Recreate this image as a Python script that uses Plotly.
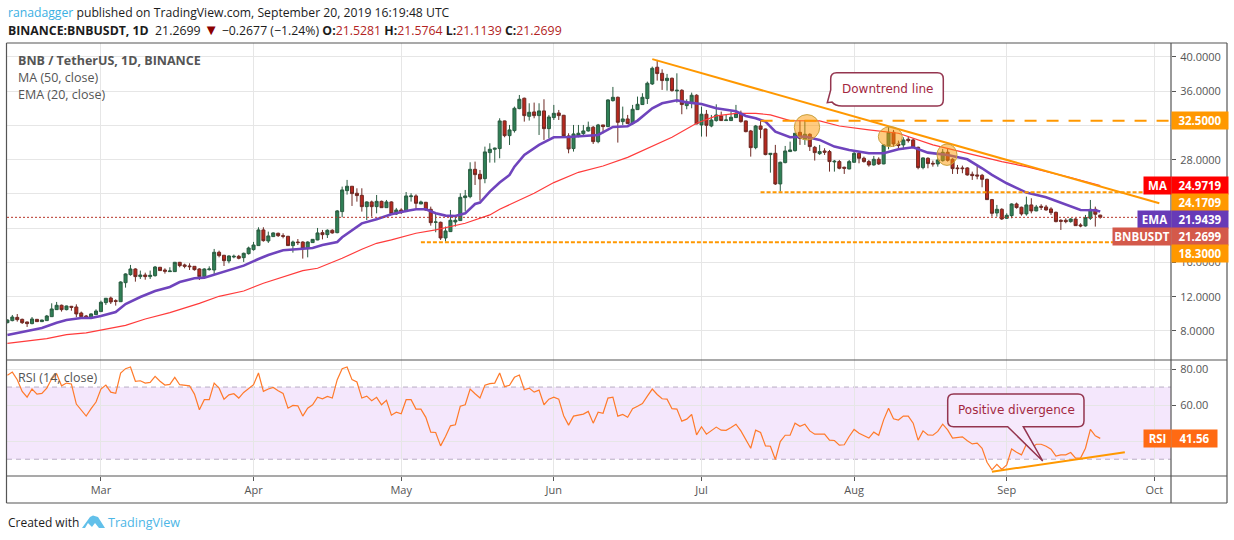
import pandas as pd
import plotly.graph_objects as go

# daily candles, BNB / USDT
opens = [8.97,9.21,9.59,9.36,9.05,8.86,9.36,9.09,9.21,9.67,10.49,11.00,10.49,10.88,10.80,10.10,9.75,9.48,9.91,10.26,
         11.31,11.85,11.54,11.42,13.64,14.58,15.24,14.35,14.54,14.35,14.46,15.44,15.12,14.93,14.93,16.02,15.71,15.59,15.55,15.24,
         14.35,15.16,15.12,17.19,16.84,16.18,16.64,16.72,16.56,17.03,17.50,17.97,19.80,18.51,19.02,19.41,19.13,19.06,17.97,18.39,
         18.39,17.62,18.32,18.63,19.48,19.25,19.76,19.48,21.94,24.39,24.90,24.08,23.84,22.52,23.07,22.52,23.14,22.40,23.07,21.66,
         22.13,21.94,23.69,23.77,22.83,23.03,22.21,20.69,20.69,18.86,19.60,20.73,20.89,23.57,23.69,26.88,26.30,25.79,28.83,29.22,
         29.30,32.53,30.81,31.40,33.97,35.18,33.07,33.58,33.15,33.70,31.63,32.92,33.46,33.19,30.78,29.30,30.78,31.05,31.36,31.79,
         30.11,32.06,31.87,34.90,35.29,32.45,32.76,32.22,33.85,34.44,35.14,36.85,38.80,38.09,37.24,37.51,36.03,36.11,34.32,34.59,
         35.53,32.06,33.31,31.94,32.57,33.11,32.57,32.57,32.92,33.42,32.53,31.36,29.41,31.94,31.59,28.60,28.75,25.17,27.66,28.95,
         29.06,31.20,30.39,30.97,29.45,28.71,29.02,28.95,27.74,27.78,27.12,26.92,27.70,28.75,28.17,27.78,27.39,28.05,27.51,29.61,
         31.20,29.84,29.73,30.39,30.31,29.45,27.08,28.17,27.58,27.51,27.89,28.87,28.05,27.04,27.04,27.04,26.30,26.22,26.18,25.71,
         23.34,21.78,22.21,21.16,21.47,22.83,22.45,21.67,22.72,22.02,22.56,22.48,22.25,21.86,20.93,20.93,20.77,21.08,20.38,20.27,
         21.16,22.21,21.5281]
highs = [9.35,9.87,9.98,9.44,9.09,9.63,9.40,9.30,9.87,11.23,11.39,11.08,10.96,10.92,11.11,10.26,9.87,10.06,10.53,11.54,
         11.85,12.01,11.70,13.80,14.73,15.71,15.32,15.05,14.81,15.05,15.59,15.47,15.32,15.44,16.06,16.06,15.86,15.90,15.55,15.32,
         15.32,15.55,17.58,17.38,16.88,16.84,16.92,16.88,17.15,17.85,18.40,20.11,20.11,19.60,19.52,19.48,19.41,19.10,18.55,18.74,
         18.47,18.47,18.74,20.03,19.80,19.87,19.87,22.13,24.86,25.64,24.93,24.66,24.66,23.14,23.22,23.88,23.22,23.30,23.14,22.37,
         22.33,24.23,24.08,23.96,23.22,23.07,22.52,21.74,20.77,20.19,22.13,21.55,24.08,24.47,27.70,27.78,26.80,29.53,29.92,29.41,
         32.84,32.57,32.06,34.20,35.56,35.25,34.59,34.67,34.59,35.06,33.23,34.40,33.81,33.23,31.09,32.06,32.06,32.06,32.45,31.94,
         32.18,32.06,35.06,36.50,35.37,34.20,33.23,34.40,35.37,35.76,37.12,38.87,39.65,38.56,38.02,37.59,38.09,36.23,35.06,35.84,
         35.64,34.20,33.81,33.23,34.47,33.62,33.23,33.62,34.40,33.73,32.57,31.48,32.06,32.64,31.63,28.75,29.73,27.78,29.61,30.11,
         31.09,32.57,32.64,31.09,29.61,29.73,29.34,29.14,27.97,27.97,27.19,27.97,28.95,28.95,28.36,27.97,28.44,28.28,29.80,31.94,
         31.48,30.23,30.62,30.70,30.50,29.53,28.28,28.28,27.89,28.17,29.26,29.34,28.17,27.39,27.31,27.12,26.61,27.27,26.34,25.79,
         23.42,22.72,22.33,21.74,22.91,22.99,22.52,23.69,23.50,22.72,22.80,22.72,22.45,21.94,21.04,21.16,21.16,21.16,20.58,21.55,
         23.30,22.52,21.5764]
lows = [8.90,9.13,9.09,8.82,8.47,8.78,9.05,9.07,9.17,9.67,10.45,10.26,10.41,10.37,9.60,9.56,9.44,9.40,9.87,10.26,
        11.04,11.15,10.96,11.42,13.06,14.46,13.76,14.07,13.99,14.07,14.35,15.05,14.70,14.93,14.89,15.44,15.32,15.12,15.05,13.96,
        14.27,15.05,14.66,16.60,15.59,15.90,16.49,16.37,16.06,16.92,17.38,17.97,18.43,18.28,18.98,18.98,18.82,17.93,17.15,18.04,
        16.45,16.60,18.28,18.59,18.70,18.86,19.37,19.41,21.28,23.92,22.60,23.10,21.94,20.96,21.35,21.74,22.37,22.37,21.55,21.55,
        21.66,21.90,23.11,22.33,22.83,22.06,20.30,19.53,18.63,18.44,19.56,20.19,20.85,21.94,23.50,25.05,23.22,25.25,27.66,27.66,
        28.17,30.62,29.72,31.17,33.89,32.45,32.57,32.84,30.89,30.31,30.50,32.64,32.64,30.62,28.75,28.95,30.62,30.89,31.28,29.84,
        29.92,31.09,31.79,34.79,30.00,32.06,32.18,32.06,33.81,34.40,34.51,36.73,37.24,36.15,36.07,35.95,34.67,33.31,33.89,34.01,
        32.14,30.70,30.70,31.79,32.45,32.53,32.57,32.53,32.88,32.33,31.20,28.36,29.22,30.50,28.52,26.49,25.05,24.27,27.58,28.95,
        28.95,29.73,29.73,29.02,27.90,28.56,28.56,26.61,26.61,26.88,26.34,26.88,27.66,27.58,27.66,27.19,27.31,27.39,27.47,29.22,
        29.53,29.14,29.22,30.00,29.34,26.88,26.88,27.00,27.19,27.19,27.78,27.78,26.34,26.34,26.42,26.14,25.64,25.71,24.78,23.30,
        21.35,21.35,20.97,21.08,21.16,22.29,21.47,21.47,21.74,21.98,22.13,22.06,21.55,20.69,19.80,20.58,20.65,20.27,20.11,20.19,
        20.97,20.19,21.1139]
closes = [9.28,9.63,9.32,8.97,8.86,9.40,9.09,9.28,9.75,10.57,11.00,10.49,10.92,10.76,9.99,9.67,9.48,9.99,10.33,11.35,
          11.82,11.39,11.46,13.72,14.66,15.24,14.35,14.54,14.35,14.50,15.47,15.05,14.97,15.00,16.02,15.63,15.55,15.51,15.16,14.35,
          15.24,15.24,17.19,16.80,16.21,16.76,16.72,16.49,17.07,17.69,18.04,19.80,18.55,19.10,19.45,19.13,19.06,17.97,18.39,18.32,
          17.62,18.39,18.70,19.45,19.25,19.76,19.45,22.02,24.47,24.90,24.04,23.81,22.52,23.07,22.52,23.14,22.40,23.07,21.70,22.13,
          21.94,23.77,23.77,22.91,23.07,22.13,20.65,20.73,18.86,19.68,20.93,20.93,23.61,23.77,26.88,26.26,25.75,28.91,29.22,29.34,
          32.53,30.81,31.48,34.01,35.06,33.15,33.54,33.15,33.70,31.63,32.99,33.42,33.15,30.78,29.26,31.01,31.09,31.36,31.79,30.11,
          32.06,31.87,34.98,35.29,32.37,32.76,32.22,33.89,34.47,35.29,36.93,38.68,38.06,37.24,37.51,36.07,36.11,34.44,34.75,35.53,
          32.18,33.31,32.02,32.64,33.23,32.57,32.64,32.96,33.42,32.45,31.28,29.41,31.94,31.55,28.60,28.75,25.17,27.70,29.02,29.14,
          31.09,30.50,30.97,29.53,28.83,28.95,28.87,27.78,27.82,27.00,27.00,27.78,28.75,28.17,27.78,27.39,28.05,27.51,29.73,31.20,
          29.84,29.65,30.31,30.23,29.45,27.08,28.21,27.55,27.51,27.97,28.87,27.93,26.96,26.96,26.96,26.22,26.14,26.10,25.71,23.34,
          21.74,22.21,21.08,21.51,22.83,22.41,21.67,22.72,22.02,22.48,22.45,22.13,21.82,20.77,20.81,20.77,21.08,20.30,20.27,21.24,
          22.21,21.63,21.2699]
dates = pd.date_range("2019-02-10", periods=len(closes))

# EMA 20 line, read at these bars
ema_pos = [0,3,7,10,12,15,17,19,22,24,27,30,33,35,38,40,44,48,51,53,56,60,62,64,67,68,70,72,75,78,
           81,83,85,87,89,91,93,95,96,98,100,102,103,105,108,111,114,117,120,123,126,128,131,133,136,138,141,144,148,150,
           152,154,156,159,162,165,168,171,175,178,181,184,187,191,195,198,200,203,207,211,215,218,221,222]
ema_vals = [7.53,7.92,8.35,8.97,9.28,9.51,9.51,9.75,10.22,11.15,11.97,12.67,13.14,13.72,14.15,14.23,14.97,15.63,16.41,16.88,
            17.42,17.62,17.69,18.04,18.39,18.94,19.80,20.57,21.04,21.63,22.02,22.21,22.21,21.74,21.47,21.43,21.74,22.83,22.99,24.27,
            25.33,26.22,27.19,28.56,29.73,30.62,30.66,30.81,30.89,31.83,31.91,32.57,34.01,34.59,34.94,34.70,34.51,34.01,33.66,33.11,
            32.84,32.45,31.28,30.62,30.70,30.31,29.53,29.14,28.75,28.75,29.22,29.45,28.83,28.56,28.05,27.00,26.22,25.25,24.16,23.61,
            22.72,22.13,22.09,21.94]

# MA 50 line, read at these bars
ma_pos = [0,4,8,12,16,24,28,33,39,43,48,52,56,60,63,68,72,75,78,80,83,87,93,98,100,107,111,116,121,126,
          131,135,140,144,148,152,155,159,165,169,175,181,188,195,202,207,212,216,222]
ma_vals = [6.56,6.83,7.10,7.57,7.77,8.66,9.40,10.14,11.23,12.05,12.67,13.57,14.35,15.05,15.32,16.49,17.54,18.24,18.63,18.94,
           19.41,19.80,20.58,21.55,22.21,24.08,25.33,26.53,27.27,28.28,29.53,30.62,32.26,33.11,33.42,33.42,33.23,32.57,32.53,31.94,
           31.48,31.09,29.73,28.75,27.78,27.19,26.49,25.91,24.97]

rsi_vals = [76.5,78.3,74.1,67.6,64.4,68.9,66.1,66.5,69.4,74.6,77.4,70.7,72.2,71.7,60.6,57.2,53.9,58.0,61.7,68.9,
            71.1,67.2,66.5,77.8,80.2,81.1,73.2,73.5,72.2,72.6,75.9,73.2,71.1,71.5,75.4,71.3,71.1,70.7,66.1,57.4,
            63.0,63.0,72.2,69.4,63.3,65.7,66.3,63.9,67.0,69.4,71.3,77.8,67.6,68.9,69.8,68.0,66.5,58.3,59.8,59.6,
            53.9,58.3,60.2,64.4,63.5,64.8,63.9,74.1,80.2,81.1,74.1,72.8,63.9,65.0,62.4,64.3,60.2,62.6,54.4,56.1,
            55.2,63.0,63.0,57.8,57.8,53.2,45.0,44.8,37.4,42.6,48.5,49.1,59.4,60.2,68.9,66.3,63.9,71.0,71.9,72.2,
            77.8,70.2,71.0,75.4,76.7,68.5,69.4,67.2,68.3,60.2,63.3,64.4,63.3,54.1,48.9,53.9,54.4,55.0,56.5,50.0,
            56.1,55.5,63.9,64.4,53.9,54.8,53.3,58.0,59.4,60.9,65.0,68.9,65.9,63.5,63.3,58.0,57.8,51.1,52.2,54.8,
            43.5,48.0,43.9,45.7,47.8,46.1,46.0,47.6,49.4,45.7,40.7,36.1,46.1,44.8,37.4,37.2,29.8,39.8,43.3,43.3,
            50.0,48.3,49.4,45.7,43.9,43.9,43.9,40.6,40.4,37.8,38.0,42.6,46.5,44.4,43.0,41.7,45.0,43.3,51.8,58.3,
            52.4,51.7,53.9,53.9,50.0,40.6,45.7,43.5,43.3,45.4,49.4,46.3,41.7,42.2,42.4,40.2,38.5,38.9,36.1,28.3,
            24.1,27.2,24.3,26.8,35.7,33.9,32.4,38.3,36.1,38.3,38.3,37.2,35.6,31.7,32.4,32.4,33.7,30.6,30.6,36.1,
            46.5,43.0,41.56]

# drawings, in date / price
trend_dates = ["2019-06-21", "2019-10-02"]
trend_prices = [39.75, 22.91]
rsi_trend_dates = ["2019-08-29", "2019-09-25"]
rsi_trend_vals = [23.1, 33.9]
level_325_start = "2019-07-13"
level_2417_start = "2019-07-13"
level_183_start = "2019-05-05"
level_325 = 32.55
level_2417 = 24.2
level_183 = 18.35
last_close = 21.2699

# the labels at 20, 24, 32 and RSI 40 sit behind the coloured tags
price_ticks = [8, 12, 16, 20, 24, 28, 32, 36, 40]
price_tick_labels = ["8.0000", "12.0000", "16.0000", "", "", "28.0000", "", "36.0000", "40.0000"]
rsi_ticks = [40, 60, 80]
rsi_tick_labels = ["", "60.00", "80.00"]
month_dates = ["2019-03-01", "2019-04-01", "2019-05-01", "2019-06-01", "2019-07-01", "2019-08-01", "2019-09-01", "2019-10-01"]
month_labels = ["Mar", "Apr", "May", "Jun", "Jul", "Aug", "Sep", "Oct"]

W, H = 1234, 540
PLOT_L, PLOT_R, FRAME_R = 7, 1171, 1227
TOP, MID, BOT, FRAME_B = 43, 360, 476, 503
X_RANGE = ["2019-02-09 22:00", "2019-10-04 09:00"]
GRID = "#e6e6e6"
AXIS = "#555555"
ORANGE = "#ff9800"
TICK_FONT = dict(family="Open Sans", size=11, color="#555555")


def px(x):
    return x / W


def py(y):
    return 1 - y / H


def label(x, y, text, **kw):
    font = kw.pop("font", dict(family="Open Sans", size=12.5, color="#555555"))
    return dict(xref="paper", yref="paper", x=px(x), y=py(y), text=text, showarrow=False,
                xanchor=kw.pop("xanchor", "left"), yanchor="middle", font=font, **kw)


def box_label(x0, x1, y0, y1, text, color):
    # coloured price tag on the axis
    return label(x0, (y0 + y1) / 2, "<b>%s</b>" % text, width=x1 - x0, height=y1 - y0, bgcolor=color,
                 align="center", valign="middle", borderpad=0,
                 font=dict(family="Open Sans", size=11.5, color="white"))


def bubble(points, fill):
    # rounded callout outline, corner radius 6 px
    return dict(type="path", xref="paper", yref="paper", fillcolor=fill, line=dict(width=1.5, color="#94354f"),
                path=points, layer="above")


def pt(x, y):
    return "%.5f,%.5f" % (px(x), py(y))


fig = go.Figure()
fig.add_trace(go.Candlestick(
    x=dates, open=opens, high=highs, low=lows, close=closes, xaxis="x", yaxis="y",
    increasing=dict(line=dict(color="#2a5c41", width=1), fillcolor="#2f8056"),
    decreasing=dict(line=dict(color="#6e2a24", width=1), fillcolor="#b8281e"),
    whiskerwidth=0))
fig.add_trace(go.Scatter(x=dates[ma_pos], y=ma_vals, mode="lines", line=dict(color="#ff3b3b", width=1.2), xaxis="x", yaxis="y"))
fig.add_trace(go.Scatter(x=dates[ema_pos], y=ema_vals, mode="lines", line=dict(color="#6f44bd", width=2.6), xaxis="x", yaxis="y"))
fig.add_trace(go.Scatter(x=trend_dates, y=trend_prices, mode="lines", line=dict(color=ORANGE, width=2), xaxis="x", yaxis="y"))
fig.add_trace(go.Scatter(x=dates, y=rsi_vals, mode="lines", line=dict(color="#ff7a2a", width=1.2), xaxis="x2", yaxis="y2"))
fig.add_trace(go.Scatter(x=rsi_trend_dates, y=rsi_trend_vals, mode="lines", line=dict(color=ORANGE, width=2), xaxis="x2", yaxis="y2"))

shapes = []
# RSI band
shapes.append(dict(type="rect", xref="x2 domain", yref="y2", x0=0, x1=1, y0=30, y1=70,
                   fillcolor="rgba(156,39,230,0.11)", line_width=0, layer="below"))
for v in [30, 70]:
    shapes.append(dict(type="line", xref="x2 domain", yref="y2", x0=0, x1=1, y0=v, y1=v,
                       line=dict(color="#b9aec4", width=1, dash="5px,4px"), layer="below"))
# price levels
shapes.append(dict(type="line", xref="x domain", yref="y", x0=0, x1=1, y0=last_close, y1=last_close,
                   line=dict(color="#b8352a", width=1, dash="2px,2px")))
for start, lvl, dash in [(level_325_start, level_325, "12px,10px"), (level_2417_start, level_2417, "4px,2px"), (level_183_start, level_183, "4px,2px")]:
    shapes.append(dict(type="line", xref="x", yref="y", x0=start, x1=X_RANGE[1], y0=lvl, y1=lvl,
                       line=dict(color=ORANGE, width=2, dash=dash), layer="above"))
# circles on the trendline touches
for cx, cy, rx, ry in [(807, 127.3, 12.7, 12.7), (890.3, 136.7, 12, 10), (947, 154.7, 10, 10.7)]:
    shapes.append(dict(type="circle", xref="paper", yref="paper", x0=px(cx - rx), x1=px(cx + rx), y0=py(cy - ry), y1=py(cy + ry),
                       fillcolor="rgba(255,152,0,0.5)", line=dict(color="#c9a23f", width=1), layer="above"))
# callouts
shapes.append(bubble("M" + pt(836.7, 72.7) + " L" + pt(937.3, 72.7) + " Q" + pt(943.3, 72.7) + " " + pt(943.3, 78.7)
                     + " L" + pt(943.3, 100) + " Q" + pt(943.3, 106) + " " + pt(937.3, 106)
                     + " L" + pt(842, 106) + " Q" + pt(835, 106) + " " + pt(832, 102) + " L" + pt(827.3, 102.7)
                     + " L" + pt(830.7, 90) + " L" + pt(830.7, 78.7) + " Q" + pt(830.7, 72.7) + " " + pt(836.7, 72.7) + " Z", "white"))
shapes.append(bubble("M" + pt(953.7, 394) + " L" + pt(1078, 394) + " Q" + pt(1084, 394) + " " + pt(1084, 400)
                     + " L" + pt(1084, 420.7) + " Q" + pt(1084, 426.7) + " " + pt(1078, 426.7)
                     + " L" + pt(1023.3, 426.7) + " L" + pt(1042.7, 461) + " L" + pt(1007.7, 426.7)
                     + " L" + pt(953.7, 426.7) + " Q" + pt(947.7, 426.7) + " " + pt(947.7, 420.7)
                     + " L" + pt(947.7, 400) + " Q" + pt(947.7, 394) + " " + pt(953.7, 394) + " Z", "#f6e9fc"))
# pane frame
for x0, y0, x1, y1 in [(6.5, TOP, FRAME_R, TOP), (6.5, MID, FRAME_R, MID), (6.5, BOT, FRAME_R, BOT), (6.5, FRAME_B, FRAME_R, FRAME_B),
                       (6.5, TOP, 6.5, FRAME_B), (FRAME_R, TOP, FRAME_R, FRAME_B), (PLOT_R, TOP, PLOT_R, FRAME_B)]:
    shapes.append(dict(type="line", xref="paper", yref="paper", x0=px(x0), x1=px(x1), y0=py(y0), y1=py(y1),
                       line=dict(color=AXIS, width=1.2), layer="above"))
# TradingView logo
shapes.append(dict(type="path", xref="paper", yref="paper", fillcolor="#62c0ea", line_width=0,
                   path="M" + pt(82, 528) + " L" + pt(90, 517) + " L" + pt(93, 515.5) + " L" + pt(98, 517)
                        + " L" + pt(105, 528) + " L" + pt(99, 528) + " L" + pt(95, 523) + " L" + pt(92, 527)
                        + " L" + pt(88, 523) + " L" + pt(85, 528) + " Z"))

RED = "#b22222"
annotations = [
    label(6, 12.5, '<span style="color:#3bb0e3">ranadagger</span> published on TradingView.com, September 20, 2019 16:19:48 UTC',
          font=dict(family="Open Sans", size=12.2, color="#1c1c1c")),
    label(6, 29.5, '<b>BINANCE:BNBUSDT, 1D</b>  21.2699 <span style="color:#8b0000;font-size:15px">▼</span> −0.2677 (−1.24%%) <b>O:</b><span style="color:%s">21.5281</span> '
                   '<b>H:</b><span style="color:%s">21.5764</span> <b>L:</b><span style="color:%s">21.1139</span> <b>C:</b><span style="color:%s">21.2699</span>' % (RED, RED, RED, RED),
          font=dict(family="Open Sans", size=12.3, color="#1c1c1c")),
    label(15.5, 60.5, "<b>BNB / TetherUS, 1D, BINANCE</b>"),
    label(15.5, 77.5, "MA (50, close)"),
    label(15.5, 94.5, "EMA (20, close)"),
    label(15.5, 377.5, "RSI (14, close)"),
    label(887, 89, "Downtrend line", xanchor="center", font=dict(family="DejaVu Sans", size=12, color="#a3283f")),
    label(1016, 409.5, "Positive divergence", xanchor="center", font=dict(family="DejaVu Sans", size=12, color="#a3283f")),
    label(6, 522, "Created with", font=dict(family="Open Sans", size=12, color="#1c1c1c")),
    label(106, 522, "TradingView", font=dict(family="Open Sans", size=12.6, color="#4cb6e6")),
    box_label(PLOT_R, FRAME_R, 112, 129, "32.5000", ORANGE),
    box_label(1143, 1170, 177, 194, "MA", "#ff0000"),
    box_label(PLOT_R, FRAME_R, 177, 194, "24.9719", "#ff0000"),
    box_label(PLOT_R, FRAME_R, 194, 211, "24.1709", ORANGE),
    box_label(1137, 1170, 211, 228, "EMA", "#673ab7"),
    box_label(PLOT_R, FRAME_R, 211, 228, "21.9439", "#673ab7"),
    box_label(1112, 1170, 228, 245, "BNBUSDT", "#d4594a"),
    box_label(PLOT_R, FRAME_R, 228, 245, "21.2699", "#d4594a"),
    box_label(PLOT_R, FRAME_R, 245, 262, "18.3000", ORANGE),
    box_label(1143, 1170, 430, 447, "RSI", "#ff6a13"),
    box_label(PLOT_R, 1216, 430, 447, "41.56", "#ff6a13"),
]

xaxis_common = dict(type="date", range=X_RANGE, tickvals=month_dates, showgrid=True, gridcolor=GRID, gridwidth=1,
                    zeroline=False, showline=False, domain=[px(PLOT_L), px(PLOT_R)], rangeslider=dict(visible=False))
yaxis_common = dict(side="right", showgrid=True, gridcolor=GRID, gridwidth=1, zeroline=False, showline=False,
                    ticks="outside", ticklen=4, tickcolor=AXIS, tickfont=TICK_FONT, ticklabelstandoff=2)

fig.update_layout(
    width=W, height=H, margin=dict(l=0, r=0, t=0, b=0), boxgap=0.12,
    paper_bgcolor="white", plot_bgcolor="white", showlegend=False, hovermode=False,
    xaxis=dict(anchor="y", showticklabels=False, ticks="", **xaxis_common),
    xaxis2=dict(anchor="y2", ticktext=month_labels, ticks="outside", ticklen=4, tickcolor=AXIS, tickfont=TICK_FONT, **xaxis_common),
    yaxis=dict(anchor="x", domain=[py(MID), py(TOP)], range=[4.61, 41.63], tickvals=price_ticks,
               ticktext=price_tick_labels, **yaxis_common),
    yaxis2=dict(anchor="x2", domain=[py(BOT), py(MID)], range=[20.7, 85.0], tickvals=rsi_ticks,
                ticktext=rsi_tick_labels, **yaxis_common),
    shapes=shapes, annotations=annotations,
)

fig.write_html("out.html", config=dict(displayModeBar=False),
               post_script="document.body.style.margin='0';document.body.style.overflow='hidden';")
